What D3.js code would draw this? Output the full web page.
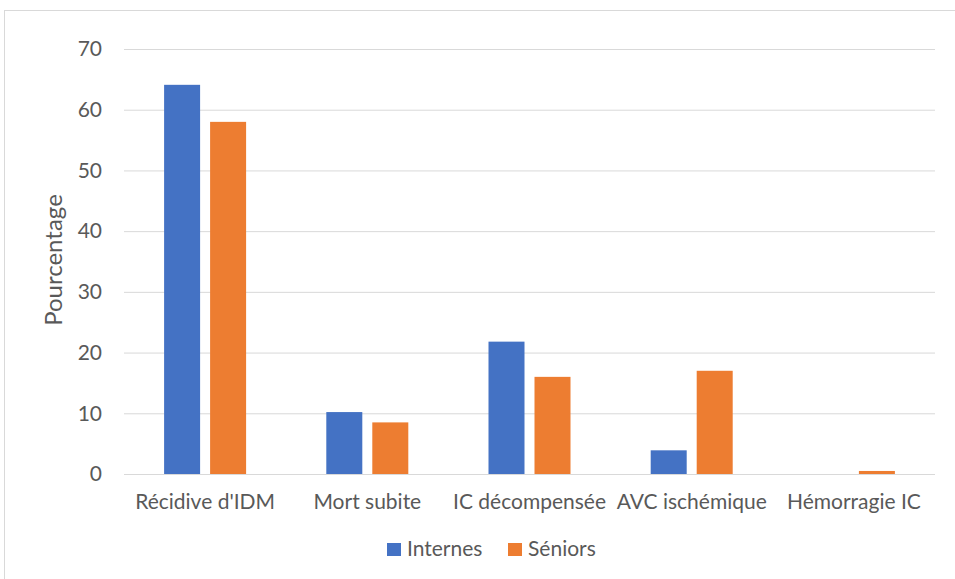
<!DOCTYPE html>
<html><head><meta charset="utf-8">
<script src="https://cdn.jsdelivr.net/npm/d3@7"></script>
<style>body{margin:0;background:#fff;}svg{display:block;}</style>
</head><body>
<script>
const categories = ["Récidive d'IDM", "Mort subite", "IC décompensée", "AVC ischémique", "Hémorragie IC"];
const seriesNames = ["Internes", "Séniors"];
const internes = [64.1, 10.2, 21.8, 3.9, 0];
const seniors = [58.0, 8.5, 16.0, 17.0, 0.5];
const yTicks = [0, 10, 20, 30, 40, 50, 60, 70];
const colors = ["#4472C4", "#ED7D31"];

(function () {
const W = 955, H = 579;
const font = "Lato, 'Open Sans', sans-serif";
const fs = "21px";
const textColor = "#595959";
const svg = d3.select("body").append("svg").attr("width", W).attr("height", H);
svg.append("rect").attr("x", 4.5).attr("y", 10.5).attr("width", W + 10).attr("height", H + 10)
  .attr("fill", "#fff").attr("stroke", "#d9d9d9").attr("stroke-width", 1);

const mL = 124, mR = 935, mT = 49, mB = 474;
const x = d3.scaleBand().domain(categories).range([mL, mR]);
const y = d3.scaleLinear().domain([0, 70]).range([mB, mT]);

const yAxis = svg.append("g").attr("transform", `translate(${mL},0)`)
  .call(d3.axisLeft(y).tickValues(yTicks).tickSize(-(mR - mL)).tickPadding(22));
yAxis.select(".domain").remove();
yAxis.selectAll(".tick line").attr("stroke", "#d9d9d9").attr("stroke-width", 1);
yAxis.selectAll(".tick text").attr("fill", textColor).style("font-family", font).style("font-size", fs);

const barW = 36, gap = 10;
const data = [internes, seniors];
data.forEach((vals, si) => {
  svg.append("g").selectAll("rect").data(vals).join("rect")
    .attr("x", (d, i) => x(categories[i]) + x.bandwidth() / 2 + (si === 0 ? -gap / 2 - barW : gap / 2))
    .attr("y", d => y(d))
    .attr("width", barW)
    .attr("height", d => mB - y(d))
    .attr("fill", colors[si]);
});

const xAxis = svg.append("g").attr("transform", `translate(0,${mB})`)
  .call(d3.axisBottom(x).tickSize(0).tickPadding(20));
xAxis.select(".domain").remove();
xAxis.selectAll(".tick text").attr("fill", textColor).style("font-family", font).style("font-size", fs);

svg.append("text").attr("transform", `translate(62,260) rotate(-90)`)
  .attr("text-anchor", "middle").attr("fill", textColor)
  .style("font-family", font).style("font-size", "24px").text("Pourcentage");

const legend = svg.append("g");
seriesNames.forEach((n, i) => {
  const lx = [387, 508][i];
  legend.append("rect").attr("x", lx).attr("y", 543).attr("width", 14).attr("height", 13).attr("fill", colors[i]);
  legend.append("text").attr("x", lx + 20).attr("y", 556).attr("fill", textColor)
    .style("font-family", font).style("font-size", fs).text(n);
});
})();
</script>
</body></html>
